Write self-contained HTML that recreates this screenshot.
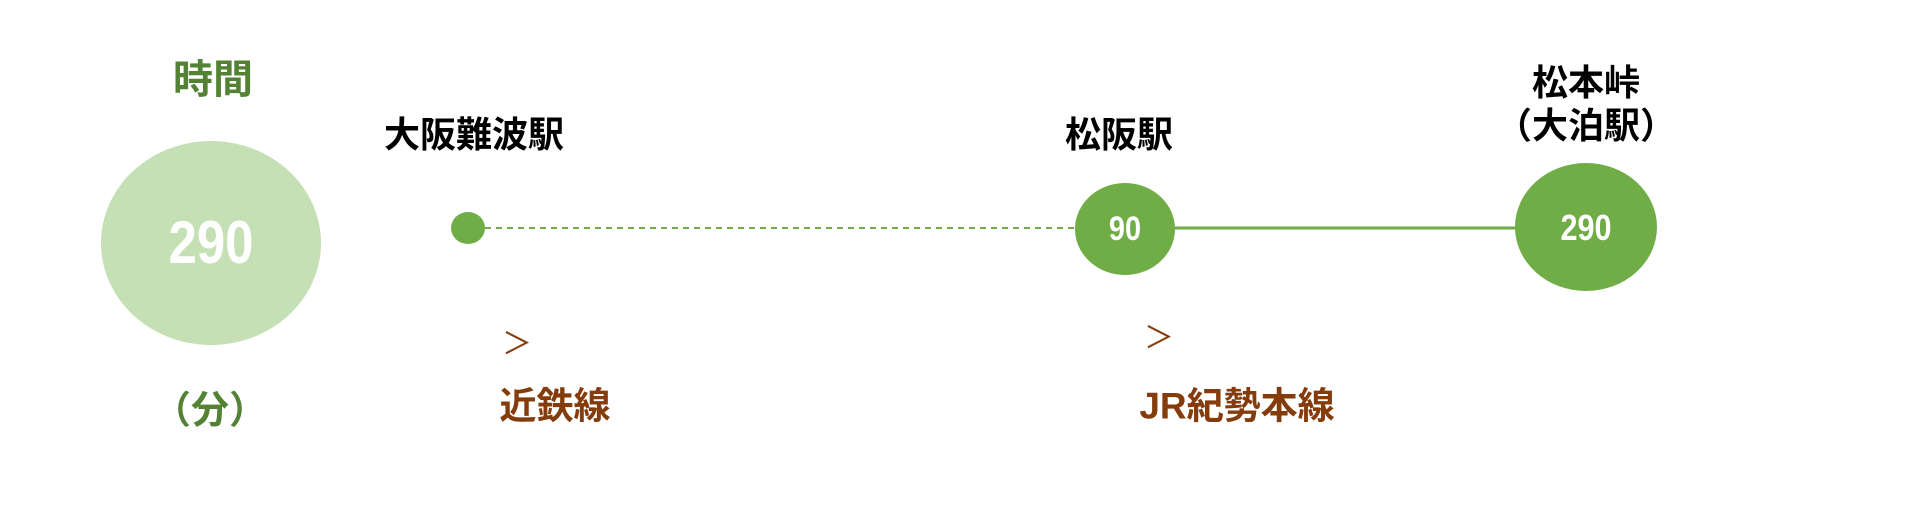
<!DOCTYPE html>
<html><head><meta charset="utf-8"><style>
html,body{margin:0;padding:0;background:#fff;}
body{width:1922px;height:508px;position:relative;overflow:hidden;font-family:"Liberation Sans","Noto Sans CJK JP",sans-serif;}
.t{position:absolute;white-space:nowrap;transform:translate(-50%,-50%);font-weight:bold;line-height:1;}
</style></head><body>
<svg width="1922" height="508" style="position:absolute;left:0;top:0">
<ellipse cx="211" cy="243" rx="110" ry="102" fill="#C5E0B4"/>
<line x1="485" y1="228" x2="1076" y2="228" stroke="#70AD47" stroke-width="2" stroke-dasharray="6,5"/>
<line x1="1175" y1="228" x2="1517" y2="228" stroke="#70AD47" stroke-width="3"/>
<ellipse cx="468" cy="228" rx="17" ry="16" fill="#70AD47"/>
<ellipse cx="1125" cy="229" rx="50" ry="46" fill="#70AD47"/>
<ellipse cx="1586" cy="227" rx="71" ry="64" fill="#70AD47"/>
</svg>
<div class="t" style="left:213px;top:80px;font-size:40px;color:#548235">時間</div>
<div class="t" style="left:211px;top:243px;font-size:60px;color:#fff;transform:translate(-50%,-50%) scaleX(0.85)">290</div>
<div class="t" style="left:210px;top:411px;font-size:38px;color:#548235">（分）</div>
<div class="t" style="left:474px;top:135px;font-size:36px;color:#000">大阪難波駅</div>
<div class="t" style="left:1119px;top:135px;font-size:36px;color:#000">松阪駅</div>
<div class="t" style="left:1586px;top:83px;font-size:36px;color:#000">松本峠</div>
<div class="t" style="left:1586px;top:126px;font-size:36px;color:#000">（大泊駅）</div>
<div class="t" style="left:1125px;top:229px;font-size:34px;color:#fff;transform:translate(-50%,-50%) scaleX(0.85)">90</div>
<div class="t" style="left:1586px;top:228px;font-size:36px;color:#fff;transform:translate(-50%,-50%) scaleX(0.85)">290</div>
<div class="t" style="left:517px;top:345px;font-size:30px;color:#843C0C;font-weight:normal">＞</div>
<div class="t" style="left:1159px;top:339px;font-size:30px;color:#843C0C;font-weight:normal">＞</div>
<div class="t" style="left:555px;top:406px;font-size:37px;color:#843C0C">近鉄線</div>
<div class="t" style="left:1237px;top:406px;font-size:37px;color:#843C0C">JR紀勢本線</div>
</body></html>
